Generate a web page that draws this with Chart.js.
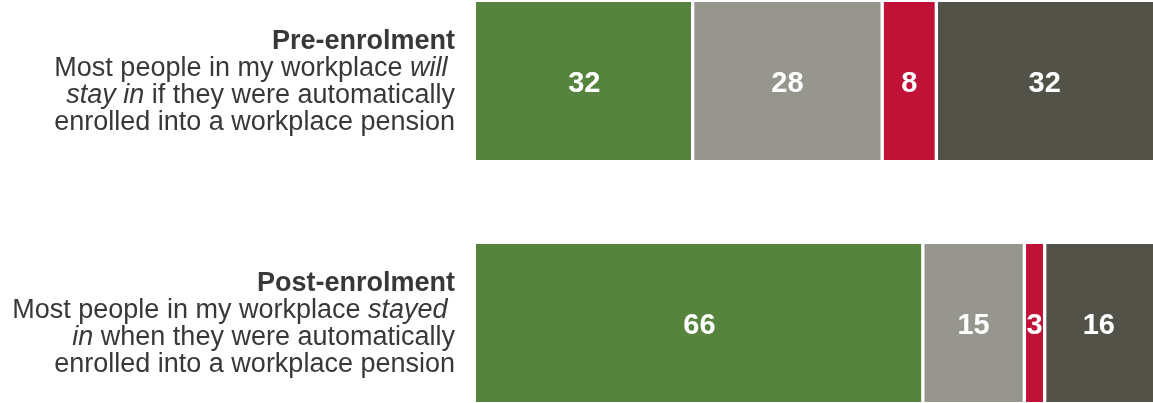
<!DOCTYPE html>
<html>
<head>
<meta charset="utf-8">
<script src="https://cdn.jsdelivr.net/npm/chart.js@4.4.1/dist/chart.umd.min.js"></script>
<style>
  html, body { margin: 0; padding: 0; background: #ffffff; }
  #frame { position: relative; width: 1153px; height: 403px; overflow: hidden; }
  #box { position: absolute; left: 0; top: -40px; width: 1153px; height: 484px; }
</style>
</head>
<body>
<div id="frame"><div id="box"><canvas id="chart"></canvas></div></div>
<script>
// Survey statements (rows) and the share of responses in each answer group (%)
const categories = ['Pre-enrolment', 'Post-enrolment'];
// Description lines under each heading; *...* marks italic text
const descriptions = [
  ['Most people in my workplace *will* ', '*stay in* if they were automatically', 'enrolled into a workplace pension'],
  ['Most people in my workplace *stayed* ', '*in* when they were automatically', 'enrolled into a workplace pension']
];
const seriesNames = ['Agree', 'Neither agree nor disagree', 'Disagree', "Don't know"];
const agree    = [32, 66];
const neither  = [28, 15];
const disagree = [8, 3];
const dontKnow = [32, 16];
const colors = ['#56843F', '#96968E', '#C01137', '#535249'];

const FONT = '"Liberation Sans", Arial, sans-serif';

// Headings and descriptions drawn to the left of each bar
const rowLabels = {
  id: 'rowLabels',
  afterDraw(chart) {
    const ctx = chart.ctx;
    const y = chart.scales.y;
    const right = chart.chartArea.left - 21;
    const lh = 26.7;
    ctx.save();
    ctx.fillStyle = '#383838';
    ctx.textBaseline = 'alphabetic';
    categories.forEach((cat, i) => {
      const cy = y.getPixelForValue(i);
      const lines = [[{ t: cat, s: 'bold' }]].concat(descriptions[i].map(parseLine));
      const first = cy - lh * (lines.length - 1) / 2 + 8.5;
      lines.forEach((runs, li) => {
        const by = first + li * lh;
        const widths = runs.map(r => { ctx.font = fontFor(r.s); return ctx.measureText(r.t).width; });
        let x = right - widths.reduce((a, b) => a + b, 0);
        runs.forEach((r, k) => {
          ctx.font = fontFor(r.s);
          ctx.textAlign = 'left';
          ctx.fillText(r.t, x, by);
          x += widths[k];
        });
      });
    });
    ctx.restore();
  }
};
function fontFor(style) {
  if (style === 'bold') return 'bold 27px ' + FONT;
  if (style === 'italic') return 'italic 27px ' + FONT;
  return '27px ' + FONT;
}
function parseLine(line) {
  const parts = line.split('*');
  return parts.map((t, k) => ({ t: t, s: k % 2 ? 'italic' : 'normal' })).filter(r => r.t.length);
}

// White value labels centred in each segment
const valueLabels = {
  id: 'valueLabels',
  afterDatasetsDraw(chart) {
    const ctx = chart.ctx;
    ctx.save();
    ctx.fillStyle = '#ffffff';
    ctx.font = 'bold 29px ' + FONT;
    ctx.textAlign = 'center';
    ctx.textBaseline = 'middle';
    chart.data.datasets.forEach((ds, di) => {
      chart.getDatasetMeta(di).data.forEach((bar, i) => {
        const cx = (bar.x + bar.base) / 2;
        ctx.fillText(String(ds.data[i]), cx, bar.y + 3);
      });
    });
    ctx.restore();
  }
};

const seriesData = [agree, neither, disagree, dontKnow];
const last = seriesNames.length - 1;
new Chart(document.getElementById('chart'), {
  type: 'bar',
  data: {
    labels: categories,
    datasets: seriesNames.map((name, k) => ({
      label: name,
      data: seriesData[k],
      backgroundColor: colors[k],
      borderColor: '#ffffff',
      borderWidth: { left: k === 0 ? 0 : 2, right: k === last ? 0 : 2, top: 0, bottom: 0 },
      borderSkipped: false,
      barThickness: 158
    }))
  },
  options: {
    indexAxis: 'y',
    responsive: true,
    maintainAspectRatio: false,
    animation: false,
    layout: { padding: { left: 476, right: 0, top: 0, bottom: 0 } },
    scales: {
      x: { stacked: true, min: 0, max: 100, display: false },
      y: { stacked: true, display: false }
    },
    plugins: { legend: { display: false }, tooltip: { enabled: false } }
  },
  plugins: [rowLabels, valueLabels]
});
</script>
</body>
</html>
